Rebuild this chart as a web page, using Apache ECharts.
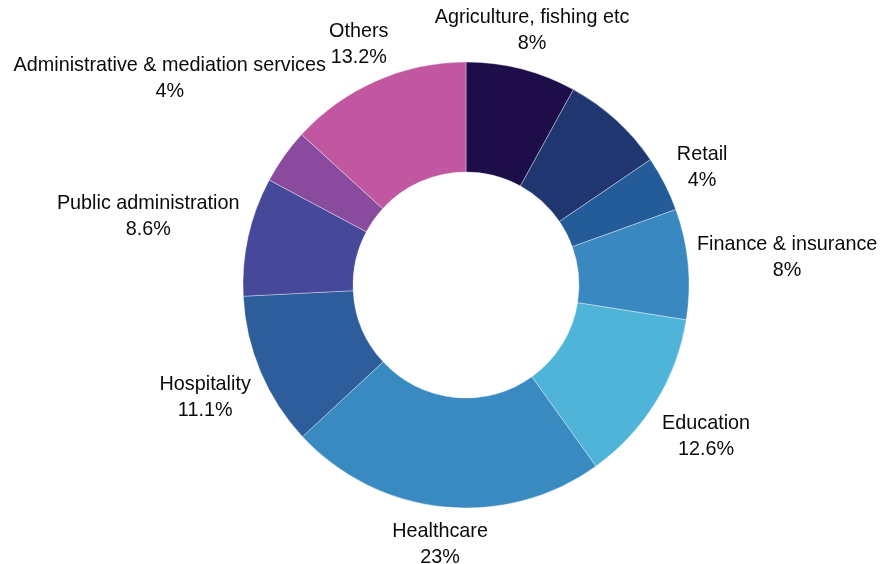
<!DOCTYPE html>
<html>
<head>
<meta charset="utf-8">
<script src="https://cdn.jsdelivr.net/npm/echarts@6/dist/echarts.min.js"></script>
<style>
  html, body { margin: 0; padding: 0; background: #ffffff; }
  #chart { width: 883px; height: 564px; }
</style>
</head>
<body>
<div id="chart"></div>
<script>
// Employment share by sector (%), clockwise from 12 o'clock
const sectors = [
  'Agriculture, fishing etc',
  '',
  'Retail',
  'Finance & insurance',
  'Education',
  'Healthcare',
  'Hospitality',
  'Public administration',
  'Administrative & mediation services',
  'Others'
];
const shares = [8, 7.5, 4, 8, 12.6, 23, 11.1, 8.6, 4, 13.2];
const sliceColors = [
  '#1d0d48', '#1f3670', '#245c99', '#3a88c0', '#4fb4d8',
  '#3a8ac2', '#2d5d9b', '#46489a', '#8a4a9e', '#c157a0'
];

const CX = 466, CY = 285;           // pie centre in px
const R_IN = 113, R_OUT = 223;      // ring radii
const LABEL_CLEAR = 231;            // labels sit just outside this circle
const LABEL_DROP = 3;               // text baseline nudge

const total = shares.reduce((a, b) => a + b, 0);
const midAngles = [];
{
  let acc = 0;
  shares.forEach(v => {
    midAngles.push(((acc + v / 2) / total) * Math.PI * 2);
    acc += v;
  });
}

// Slide each label box outward along its slice's mid-angle until it clears the ring
function placeLabel(idx, w, h) {
  const ux = Math.sin(midAngles[idx]);
  const uy = -Math.cos(midAngles[idx]);
  const a = w / 2, b = h / 2;
  const dist = d => {
    const dx = Math.max(Math.abs(d * ux) - a, 0);
    const dy = Math.max(Math.abs(d * uy) - b, 0);
    return Math.hypot(dx, dy);
  };
  let lo = 0, hi = 800;
  for (let i = 0; i < 40; i++) {
    const m = (lo + hi) / 2;
    if (dist(m) >= LABEL_CLEAR) hi = m; else lo = m;
  }
  return { x: CX + hi * ux, y: CY + hi * uy + LABEL_DROP };
}

const data = sectors.map((name, i) => ({
  name: name,
  value: shares[i],
  itemStyle: { color: sliceColors[i] },
  label: { show: name !== '' }
}));

const chart = echarts.init(document.getElementById('chart'), null, { renderer: 'canvas' });
chart.setOption({
  backgroundColor: '#ffffff',
  animation: false,
  series: [{
    type: 'pie',
    center: [CX, CY],
    radius: [R_IN, R_OUT],
    startAngle: 90,
    clockwise: true,
    avoidLabelOverlap: false,
    itemStyle: { borderColor: 'rgba(255,255,255,0.6)', borderWidth: 0.6 },
    label: {
      show: true,
      position: 'outside',
      formatter: '{b}\n{c}%',
      color: '#0a0a0a',
      fontFamily: 'Liberation Sans, Arial, Helvetica, sans-serif',
      fontSize: 19.8,
      lineHeight: 26,
      align: 'center'
    },
    labelLine: { show: false },
    labelLayout: function (params) {
      const r = params.labelRect;
      const p = placeLabel(params.dataIndex, r.width, r.height);
      return { x: p.x, y: p.y, align: 'center', verticalAlign: 'middle' };
    },
    emphasis: { disabled: true },
    data: data
  }]
});
</script>
</body>
</html>
